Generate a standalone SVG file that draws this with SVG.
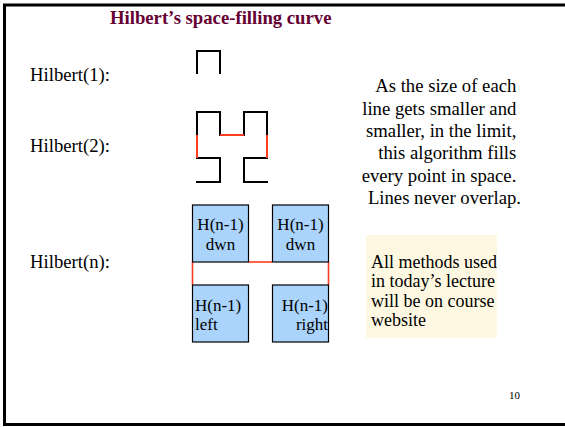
<svg xmlns="http://www.w3.org/2000/svg" width="565" height="427" viewBox="0 0 565 427">
<style>
text { font-family: "Liberation Serif", "Times New Roman", serif; fill: #000; }
.lbl { font-size: 18.7px; }
.box { fill: #aad4fc; stroke: #000; stroke-width: 1.2; }
.bt { font-size: 17px; }
.blk { fill: none; stroke: #000; stroke-width: 2; stroke-linecap: square; }
.red { fill: none; stroke: #ff3c1e; stroke-width: 2; }
.redn { fill: none; stroke: #ff3c1e; stroke-width: 1.6; }
</style>
<rect x="0" y="0" width="565" height="427" fill="#fff"/>
<path d="M 570 5 L 4.5 5 L 4.5 424.5 L 570 424.5" fill="none" stroke="#000" stroke-width="3"/>
<text x="110" y="24" style="font-size:18.7px;font-weight:bold;fill:#660033">Hilbert’s space-filling curve</text>

<g id="label-h1"><text class="lbl" x="30" y="81">Hilbert(1):</text></g>
<g id="label-h2"><text class="lbl" x="30" y="152">Hilbert(2):</text></g>
<g id="label-hn"><text class="lbl" x="30" y="268">Hilbert(n):</text></g>

<g id="hilbert1">
<path class="blk" d="M 197 73 L 197 51 L 220 51 L 220 73"/>
</g>

<g id="hilbert2">
<path class="blk" d="M 197 182 L 220 182 L 220 158 L 197 158"/>
<path class="blk" d="M 197 135 L 197 112 L 220 112 L 220 135"/>
<path class="blk" d="M 244 135 L 244 112 L 267 112 L 267 135"/>
<path class="blk" d="M 267 158 L 244 158 L 244 182 L 267 182"/>
<path class="red" d="M 197 158 L 197 135"/>
<path class="red" d="M 220 135 L 244 135"/>
<path class="red" d="M 267 135 L 267 158"/>
</g>

<g id="connectors">
<path class="redn" d="M 249 262 L 272 262"/>
<path class="redn" d="M 192.5 262 L 192.5 285"/>
<path class="redn" d="M 328.5 262 L 328.5 285"/>
</g>

<g id="box-tl">
<rect class="box" x="192.5" y="205" width="56" height="57"/>
<text class="bt" x="220.5" y="230" text-anchor="middle">H(n-1)</text>
<text class="bt" x="220.5" y="250" text-anchor="middle">dwn</text>
</g>
<g id="box-tr">
<rect class="box" x="272.5" y="205" width="56" height="57"/>
<text class="bt" x="300.5" y="230" text-anchor="middle">H(n-1)</text>
<text class="bt" x="300.5" y="250" text-anchor="middle">dwn</text>
</g>
<g id="box-bl">
<rect class="box" x="192.5" y="285" width="56" height="57"/>
<text class="bt" x="195" y="311">H(n-1)</text>
<text class="bt" x="195" y="330">left</text>
</g>
<g id="box-br">
<rect class="box" x="272.5" y="285" width="56" height="57"/>
<text class="bt" x="328" y="311" text-anchor="end">H(n-1)</text>
<text class="bt" x="328" y="330" text-anchor="end">right</text>
</g>

<g id="description">
<text class="lbl" text-anchor="end">
<tspan x="521" y="92">As the size of each</tspan>
<tspan x="521" y="115">line gets smaller and</tspan>
<tspan x="521" y="137">smaller, in the limit,</tspan>
<tspan x="521" y="159">this algorithm fills</tspan>
<tspan x="521" y="182">every point in space.</tspan>
<tspan x="521" y="204">Lines never overlap.</tspan>
</text>
</g>

<g id="note">
<rect x="366" y="235" width="131" height="103" fill="#fef8e2"/>
<text style="font-size:18px">
<tspan x="371" y="268">All methods used</tspan>
<tspan x="371" y="287">in today’s lecture</tspan>
<tspan x="371" y="307">will be on course</tspan>
<tspan x="371" y="326">website</tspan>
</text>
</g>

<text x="509" y="399" style="font-size:11px">10</text>
</svg>
